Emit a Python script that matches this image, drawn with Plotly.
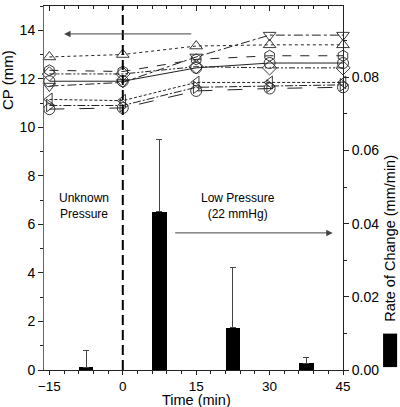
import plotly.graph_objects as go

# ---- data ----
times = [-15, 0, 15, 30, 45]
cp_series = {
    "s1": [12.9, 13.0, 13.35, 13.4, 13.4],
    "s2": [11.7, 11.85, 12.9, 13.8, 13.8],
    "s3": [12.35, 12.3, 12.8, 12.95, 12.95],
    "s4": [11.9, 11.9, 12.45, 12.65, 12.65],
    "s5": [12.2, 12.2, 12.5, 12.45, 12.45],
    "s6": [11.15, 11.1, 11.85, 11.85, 11.85],
    "s7": [10.9, 10.9, 11.65, 11.7, 11.75],
    "s8": [10.75, 10.8, 11.5, 11.6, 11.65],
}
bar_times = [-7.5, 7.5, 22.5, 37.5]
rate_values = [0.0008, 0.0433, 0.0115, 0.0019]
rate_err_plus = [0.0045, 0.0197, 0.0165, 0.0014]
boundary_time = 0
x_ticks = [-15, 0, 15, 30, 45]
left_ticks = [0, 2, 4, 6, 8, 10, 12, 14]
right_ticks = [0.0, 0.02, 0.04, 0.06, 0.08, 0.10]
right_tick_text = ["0.00", "0.02", "0.04", "0.06", "0.08", "0.10"]

# ---- styles ----
styles = {
    "s1": ("triangle-up-open", "dot"),
    "s2": ("triangle-down-open", "dashdot"),
    "s3": ("hexagon-open", "dash"),
    "s4": ("circle-open", "solid"),
    "s5": ("diamond-open", "6px,2px,2px,2px,2px,2px"),
    "s6": ("triangle-left-open", "3px,2px"),
    "s7": ("triangle-right-open", "8px,2px,2px,2px"),
    "s8": ("circle-open", "longdash"),
}
ink = "#222222"
FONT = "Liberation Sans, Arial, sans-serif"

fig = go.Figure()

for name, vals in cp_series.items():
    sym, dash = styles[name]
    fig.add_trace(go.Scatter(
        x=times, y=vals, mode="lines+markers", name=name,
        line=dict(color=ink, width=1, dash=dash),
        marker=dict(symbol=sym, size=11, color=ink, line=dict(width=0.9, color=ink)),
        cliponaxis=False, showlegend=False, yaxis="y", xaxis="x",
    ))

fig.add_trace(go.Bar(
    x=bar_times, y=rate_values, width=3, yaxis="y2", xaxis="x",
    marker=dict(color="black", line=dict(width=0)),
    error_y=dict(type="data", symmetric=False, array=rate_err_plus,
                 arrayminus=[0] * len(rate_values), color="#444", thickness=1, width=3),
    showlegend=False,
))

# invisible trace to activate top axis
fig.add_trace(go.Scatter(x=times, y=[None] * len(times), xaxis="x2", yaxis="y",
                         showlegend=False, hoverinfo="skip"))

fig.add_shape(type="line", xref="x", yref="paper", x0=boundary_time, x1=boundary_time,
              y0=0, y1=1, line=dict(color="black", width=2, dash="10px,5px"))

# legend box for bars
fig.add_shape(type="rect", xref="paper", yref="paper", x0=1.134, x1=1.181,
              y0=0.008, y1=0.10, fillcolor="black", line=dict(width=0))

fig.update_layout(
    width=400, height=407,
    margin=dict(l=44, r=57, t=6, b=37),
    paper_bgcolor="white", plot_bgcolor="white",
    font=dict(family=FONT, size=14, color="black"),
    bargap=0,
    xaxis=dict(range=[-16.1, 45], tickvals=x_ticks, ticks="outside", ticklen=4,
               tickcolor=ink, showline=True, linecolor=ink, linewidth=1,
               showgrid=False, zeroline=False, automargin=False,
               minor=dict(dtick=3, ticks="outside", ticklen=3, tickcolor=ink),
               tickfont=dict(size=13.5)),
    xaxis2=dict(range=[-16.1, 45], overlaying="x", side="top", tickvals=x_ticks,
                showticklabels=False, ticks="inside", ticklen=5, tickcolor=ink,
                showline=True, linecolor=ink, linewidth=1, showgrid=False,
                zeroline=False, automargin=False,
                minor=dict(dtick=3, ticks="inside", ticklen=3, tickcolor=ink)),
    yaxis=dict(range=[0, 15], tickvals=left_ticks, ticks="outside", ticklen=5,
               tickcolor=ink, showline=True, linecolor="#666", linewidth=1,
               showgrid=False, zeroline=False, automargin=False,
               minor=dict(dtick=1, ticks="outside", ticklen=3, tickcolor=ink),
               tickfont=dict(size=14)),
    yaxis2=dict(range=[0, 0.0995], overlaying="y", side="right", tickvals=right_ticks,
                ticktext=right_tick_text, ticks="outside", ticklen=5, tickcolor=ink,
                showline=True, linecolor=ink, linewidth=1, showgrid=False,
                zeroline=False, automargin=False,
                minor=dict(dtick=0.01, ticks="outside", ticklen=3, tickcolor=ink),
                tickfont=dict(size=14)),
    annotations=[
        dict(x=-12, y=13.85, ax=14.3, ay=13.85, xref="x", yref="y", axref="x", ayref="y",
             showarrow=True, arrowhead=2, arrowsize=1.3, arrowwidth=1, arrowcolor="#444",
             text=""),
        dict(x=42.9, y=5.65, ax=10.4, ay=5.65, xref="x", yref="y", axref="x", ayref="y",
             showarrow=True, arrowhead=2, arrowsize=1.3, arrowwidth=1, arrowcolor="#444",
             text=""),
        dict(x=-8, y=6.75, xref="x", yref="y", text="Unknown<br>Pressure", showarrow=False,
             font=dict(size=12), align="center"),
        dict(x=23.5, y=6.75, xref="x", yref="y", text="Low Pressure<br>(22 mmHg)",
             showarrow=False, font=dict(size=12), align="center"),
        dict(x=-0.12, y=0.797, xref="paper", yref="paper", text="CP (mm)", textangle=-90,
             xanchor="center", yanchor="middle", showarrow=False, font=dict(size=15)),
        dict(x=1.157, y=0.363, xref="paper", yref="paper", text="Rate of Change (mm/min)",
             xanchor="center", yanchor="middle",
             textangle=-90, showarrow=False, font=dict(size=14.5)),
        dict(x=0.51, y=-0.083, xref="paper", yref="paper", text="Time (min)",
             xanchor="center", showarrow=False, font=dict(size=14.5), yanchor="middle"),
    ],
)

fig.write_html("out.html", config={"displayModeBar": False},
               post_script="document.body.style.margin='0px';document.body.style.padding='0px';")
